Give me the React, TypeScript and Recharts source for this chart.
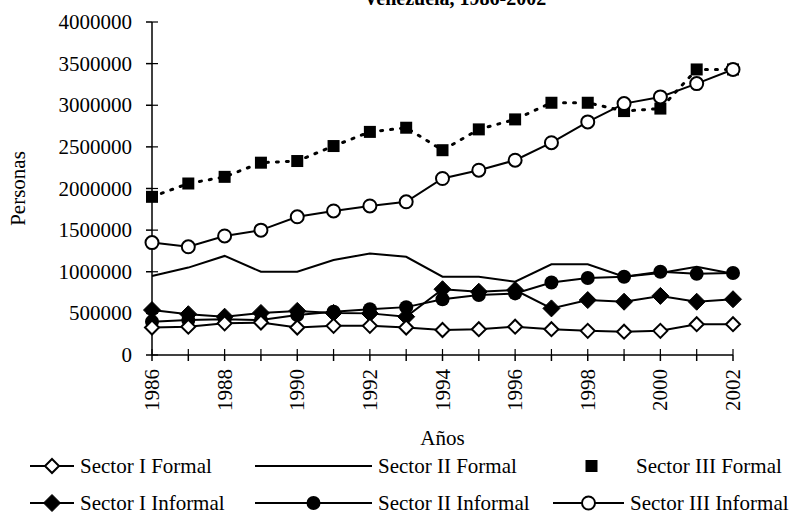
import React from 'react';
import { LineChart, Line, XAxis, YAxis, Legend, Customized } from 'recharts';

const years = [1986, 1987, 1988, 1989, 1990, 1991, 1992, 1993, 1994, 1995, 1996, 1997, 1998, 1999, 2000, 2001, 2002];
const sectorIFormal = [330000, 340000, 380000, 390000, 330000, 350000, 350000, 330000, 300000, 310000, 340000, 310000, 290000, 280000, 290000, 370000, 370000];
const sectorIIFormal = [950000, 1050000, 1190000, 1000000, 1000000, 1140000, 1220000, 1180000, 940000, 940000, 880000, 1090000, 1090000, 940000, 985000, 1060000, 975000];
const sectorIIIFormal = [1900000, 2060000, 2140000, 2310000, 2330000, 2510000, 2680000, 2730000, 2460000, 2710000, 2830000, 3030000, 3030000, 2930000, 2960000, 3430000, 3430000];
const sectorIInformal = [540000, 490000, 460000, 505000, 530000, 505000, 500000, 460000, 790000, 760000, 780000, 560000, 660000, 640000, 710000, 640000, 670000];
const sectorIIInformal = [400000, 420000, 430000, 420000, 480000, 520000, 550000, 575000, 670000, 720000, 740000, 870000, 925000, 940000, 1000000, 975000, 985000];
const sectorIIIInformal = [1350000, 1300000, 1430000, 1500000, 1660000, 1730000, 1790000, 1840000, 2120000, 2220000, 2340000, 2550000, 2800000, 3020000, 3100000, 3260000, 3430000];
const yTicks = [0, 500000, 1000000, 1500000, 2000000, 2500000, 3000000, 3500000, 4000000];

const seriesNames = ['Sector I Formal', 'Sector II Formal', 'Sector III Formal', 'Sector I Informal', 'Sector II Informal', 'Sector III Informal'];

const data = years.map((y, i) => ({
  year: y,
  s1f: sectorIFormal[i],
  s2f: sectorIIFormal[i],
  s3f: sectorIIIFormal[i],
  s1i: sectorIInformal[i],
  s2i: sectorIIInformal[i],
  s3i: sectorIIIInformal[i],
}));

const FONT = '"Liberation Serif", "Times New Roman", serif';
const FS = 21;

const OpenDiamond = (p: any) => {
  const { cx, cy } = p;
  if (cx == null || cy == null) return null;
  const r = 7;
  return <polygon points={`${cx},${cy - r} ${cx + r},${cy} ${cx},${cy + r} ${cx - r},${cy}`} fill="#fff" stroke="#000" strokeWidth={2} />;
};
const FilledDiamond = (p: any) => {
  const { cx, cy } = p;
  if (cx == null || cy == null) return null;
  const r = 8.5;
  return <polygon points={`${cx},${cy - r} ${cx + r},${cy} ${cx},${cy + r} ${cx - r},${cy}`} fill="#000" stroke="#000" strokeWidth={1} />;
};
const Square = (p: any) => {
  const { cx, cy } = p;
  if (cx == null || cy == null) return null;
  const s = 12;
  return <rect x={cx - s / 2} y={cy - s / 2} width={s} height={s} fill="#000" />;
};
const FilledCircle = (p: any) => {
  const { cx, cy } = p;
  if (cx == null || cy == null) return null;
  return <circle cx={cx} cy={cy} r={7} fill="#000" />;
};
const OpenCircle = (p: any) => {
  const { cx, cy } = p;
  if (cx == null || cy == null) return null;
  return <circle cx={cx} cy={cy} r={6.5} fill="#fff" stroke="#000" strokeWidth={2} />;
};

const XTick = (p: any) => {
  const { x, y, payload } = p;
  const axisY = y - 8;
  const ty = y + 6;
  return (
    <g>
      <line x1={x} y1={axisY} x2={x} y2={axisY - 6} stroke="#000" strokeWidth={1.2} />
      {payload.value % 2 === 0 && (
        <text x={x} y={ty} transform={`rotate(-90, ${x}, ${ty})`} textAnchor="end" dominantBaseline="central" fontFamily={FONT} fontSize={FS} fill="#000">
          {payload.value}
        </text>
      )}
    </g>
  );
};

const YTick = (p: any) => {
  const { x, y, payload } = p;
  const axisX = x + 6 + 14;
  return (
    <g>
      <line x1={axisX} y1={y} x2={axisX + 6} y2={y} stroke="#000" strokeWidth={1.2} />
      <text x={x} y={y} textAnchor="end" dominantBaseline="central" fontFamily={FONT} fontSize={FS} fill="#000">
        {payload.value}
      </text>
    </g>
  );
};

const legendItems = [
  { name: seriesNames[0], lx: 30, tx: 80, row: 0, marker: 'od' },
  { name: seriesNames[1], lx: 255, tx: 378, row: 0, marker: 'none' },
  { name: seriesNames[2], lx: 553, tx: 636, row: 0, marker: 'sq' },
  { name: seriesNames[3], lx: 30, tx: 80, row: 1, marker: 'fd' },
  { name: seriesNames[4], lx: 255, tx: 378, row: 1, marker: 'fc' },
  { name: seriesNames[5], lx: 553, tx: 630, row: 1, marker: 'oc' },
];

const LegendContent = () => (
  <svg width={803} height={70} style={{ display: 'block' }}>
    {legendItems.map((it, i) => {
      const cy = 16 + it.row * 37;
      const x1 = it.lx;
      const x2 = it.tx - 6;
      const mx = (x1 + x2) / 2;
      let marker: any = null;
      if (it.marker === 'od') marker = <OpenDiamond cx={mx} cy={cy} />;
      if (it.marker === 'fd') marker = <FilledDiamond cx={mx} cy={cy} />;
      if (it.marker === 'fc') marker = <FilledCircle cx={mx} cy={cy} />;
      if (it.marker === 'oc') marker = <OpenCircle cx={mx} cy={cy} />;
      if (it.marker === 'sq') marker = <Square cx={mx} cy={cy} />;
      return (
        <g key={i}>
          {it.marker !== 'sq' && <line x1={x1} y1={cy} x2={x2} y2={cy} stroke="#000" strokeWidth={2} />}
          {marker}
          <text x={it.tx} y={cy} dominantBaseline="central" fontFamily={FONT} fontSize={FS} fill="#000">{it.name}</text>
        </g>
      );
    })}
  </svg>
);

const Title = () => (
  <text x={455} y={5} textAnchor="middle" fontFamily={FONT} fontSize={20} fontWeight="bold" fill="#000">Venezuela, 1986-2002</text>
);

export default function App() {
  return (
    <div style={{ position: 'absolute', left: 0, top: 0, width: 803, height: 518, background: '#fff' }}>
      <LineChart width={803} height={518} data={data} margin={{ top: 22, right: 70, left: 0, bottom: 83 }}>
        <XAxis
          dataKey="year"
          type="number"
          domain={[1986, 2002]}
          ticks={years}
          interval={0}
          height={80}
          tick={<XTick />}
          tickSize={6}
          tickMargin={2}
          stroke="#000"
          strokeWidth={1.5}
          label={{ value: 'Años', position: 'insideBottom', offset: -10, style: { fontFamily: FONT, fontSize: FS, fill: '#000' } }}
        />
        <YAxis
          width={152}
          domain={[0, 4000000]}
          ticks={yTicks}
          interval={0}
          tickSize={6}
          tickMargin={14}
          stroke="#000"
          strokeWidth={1.5}
          tick={<YTick />}
          label={{ value: 'Personas', angle: -90, position: 'insideLeft', offset: 18, style: { textAnchor: 'middle', fontFamily: FONT, fontSize: FS, fill: '#000' } }}
        />
        <Legend verticalAlign="middle" align="center" layout="horizontal" content={<LegendContent />} wrapperStyle={{ position: 'absolute', top: 450, left: 0, width: 803, height: 70 }} />
        <Line dataKey="s2f" name={seriesNames[1]} stroke="#000" strokeWidth={2} dot={false} isAnimationActive={false} />
        <Line dataKey="s3f" name={seriesNames[2]} stroke="#000" strokeWidth={3} strokeDasharray="2 8" strokeLinecap="round" dot={<Square />} isAnimationActive={false} />
        <Line dataKey="s3i" name={seriesNames[5]} stroke="#000" strokeWidth={2} dot={<OpenCircle />} isAnimationActive={false} />
        <Line dataKey="s2i" name={seriesNames[4]} stroke="#000" strokeWidth={2} dot={<FilledCircle />} isAnimationActive={false} />
        <Line dataKey="s1i" name={seriesNames[3]} stroke="#000" strokeWidth={2} dot={<FilledDiamond />} isAnimationActive={false} />
        <Line dataKey="s1f" name={seriesNames[0]} stroke="#000" strokeWidth={2} dot={<OpenDiamond />} isAnimationActive={false} />
        <Customized component={Title} />
      </LineChart>
    </div>
  );
}
